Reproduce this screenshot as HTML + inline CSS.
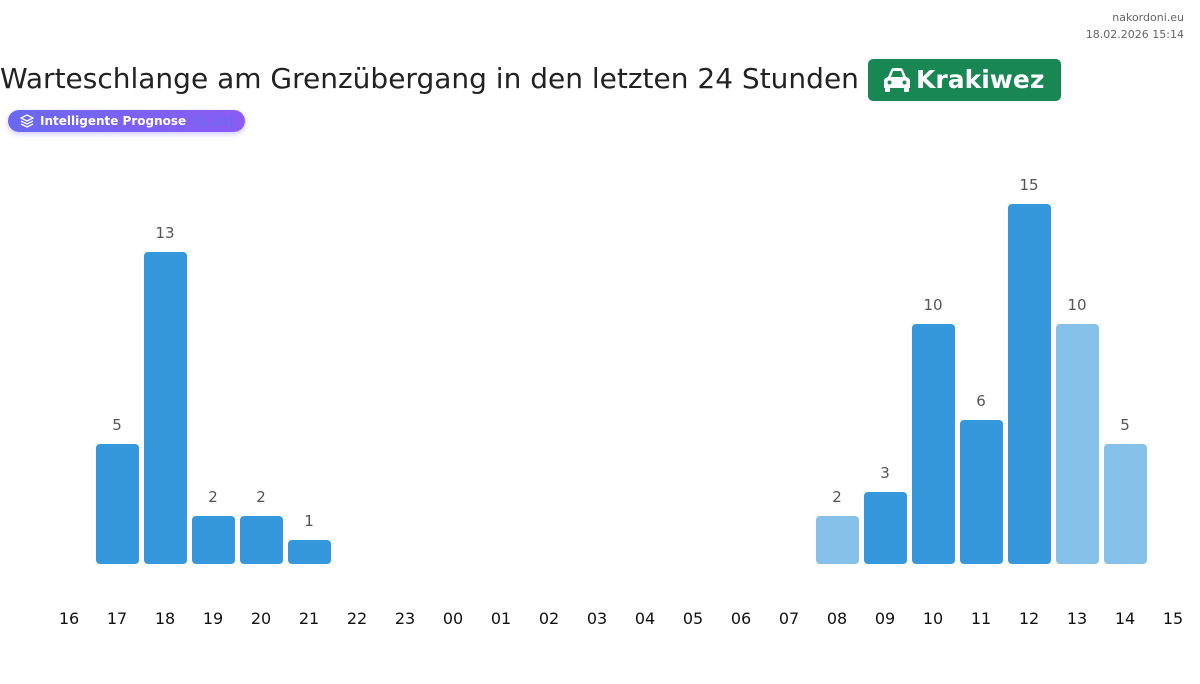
<!DOCTYPE html>
<html><head><meta charset="utf-8"><style>
body{margin:0;width:1200px;height:684px;background:#fff;font-family:"DejaVu Sans","Liberation Sans",sans-serif;position:relative;overflow:hidden}
.src{position:absolute;right:16px;top:9px;text-align:right;font-size:11px;color:#666;line-height:17px}
h1{position:absolute;left:0;top:62px;margin:0;font-weight:normal;font-size:28px;color:#222;white-space:nowrap}
.badge{position:absolute;left:868px;top:59px;width:193px;height:42px;background:#198754;border-radius:5px;color:#fff;font-weight:bold;font-size:25px;line-height:42px;box-sizing:border-box;padding-left:48px}
.prog{position:absolute;left:8px;top:110px;width:237px;height:22px;border-radius:11px;background:linear-gradient(90deg,#6a68f0,#8b5cf6);box-shadow:0 2px 6px rgba(120,100,240,.35);color:#fff;font-weight:bold;font-size:12px;line-height:22px;padding-left:32px;box-sizing:border-box}
.prog span{color:#6d6af0;margin-left:8px}
</style></head><body>
<div class="src">nakordoni.eu<br>18.02.2026 15:14</div>
<h1>Warteschlange am Grenzübergang in den letzten 24 Stunden</h1>
<div class="badge"><svg style="position:absolute;left:15px;top:8px" width="28" height="26" viewBox="0 0 28 26"><path d="M5 10 L8 3 Q9 1 11 1 H17 Q19 1 20 3 L23 10 Q27 11 27 14 V21 H1 V14 Q1 11 5 10Z M8 10 H20 L18 4 H10Z" fill="#fff" fill-rule="evenodd"/><circle cx="6.5" cy="15.5" r="2" fill="#198754"/><circle cx="21.5" cy="15.5" r="2" fill="#198754"/><rect x="2" y="20" width="5" height="5" rx="1" fill="#fff"/><rect x="21" y="20" width="5" height="5" rx="1" fill="#fff"/></svg>Krakiwez</div>
<div class="prog"><svg style="position:absolute;left:12px;top:4px" width="14" height="14" viewBox="0 0 14 14" fill="none" stroke="#fff" stroke-width="1.3"><path d="M7 1 L13 4 L7 7 L1 4Z"/><path d="M1 7 L7 10 L13 7"/><path d="M1 10 L7 13 L13 10"/></svg>Intelligente Prognose<span>(1.1x)</span></div>
<svg style="position:absolute;left:0;top:0" width="1200" height="684">
<g font-family="DejaVu Sans, Liberation Sans, sans-serif" font-size="16" fill="#111" text-anchor="middle">
<text x="69" y="624">16</text><text x="117" y="624">17</text><text x="165" y="624">18</text><text x="213" y="624">19</text><text x="261" y="624">20</text><text x="309" y="624">21</text><text x="357" y="624">22</text><text x="405" y="624">23</text><text x="453" y="624">00</text><text x="501" y="624">01</text><text x="549" y="624">02</text><text x="597" y="624">03</text><text x="645" y="624">04</text><text x="693" y="624">05</text><text x="741" y="624">06</text><text x="789" y="624">07</text><text x="837" y="624">08</text><text x="885" y="624">09</text><text x="933" y="624">10</text><text x="981" y="624">11</text><text x="1029" y="624">12</text><text x="1077" y="624">13</text><text x="1125" y="624">14</text><text x="1173" y="624">15</text>
</g>
<g font-family="DejaVu Sans, Liberation Sans, sans-serif" font-size="15" fill="#555" text-anchor="middle">
<rect x="96" y="444" width="43" height="120" rx="4" fill="#3498db"/><text x="117" y="430">5</text>
<rect x="144" y="252" width="43" height="312" rx="4" fill="#3498db"/><text x="165" y="238">13</text>
<rect x="192" y="516" width="43" height="48" rx="4" fill="#3498db"/><text x="213" y="502">2</text>
<rect x="240" y="516" width="43" height="48" rx="4" fill="#3498db"/><text x="261" y="502">2</text>
<rect x="288" y="540" width="43" height="24" rx="4" fill="#3498db"/><text x="309" y="526">1</text>
<rect x="816" y="516" width="43" height="48" rx="4" fill="#85c1e9"/><text x="837" y="502">2</text>
<rect x="864" y="492" width="43" height="72" rx="4" fill="#3498db"/><text x="885" y="478">3</text>
<rect x="912" y="324" width="43" height="240" rx="4" fill="#3498db"/><text x="933" y="310">10</text>
<rect x="960" y="420" width="43" height="144" rx="4" fill="#3498db"/><text x="981" y="406">6</text>
<rect x="1008" y="204" width="43" height="360" rx="4" fill="#3498db"/><text x="1029" y="190">15</text>
<rect x="1056" y="324" width="43" height="240" rx="4" fill="#85c1e9"/><text x="1077" y="310">10</text>
<rect x="1104" y="444" width="43" height="120" rx="4" fill="#85c1e9"/><text x="1125" y="430">5</text>
</g>
</svg>
</body></html>
